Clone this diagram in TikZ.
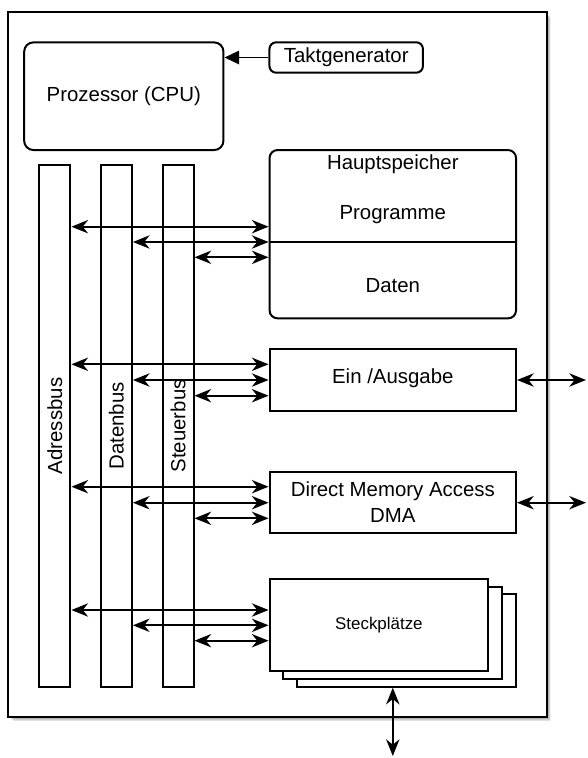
\documentclass[tikz,border=0pt]{standalone}
\usepackage{fontspec}
\setmainfont{Liberation Sans}
\usetikzlibrary{arrows.meta}

\tikzset{
  box/.style={draw, fill=white, inner sep=0pt, line width=1.5pt},
  rbox/.style={box, rounded corners=6pt},
  bus/.style={box, minimum width=31*0.75pt, minimum height=521.7*0.75pt},
  buslabel/.style={rotate=90, font=\fontsize{15.3pt}{18pt}\selectfont},
  bi/.style={{Stealth[length=12.5pt,width=10pt,inset=4pt]}-{Stealth[length=12.5pt,width=10pt,inset=4pt]}, line width=1.4pt},
  clk/.style={-{Triangle[length=11pt,width=10pt]}, line width=1.4pt},
  txt/.style={font=\fontsize{15.3pt}{19.3pt}\selectfont, align=center, inner sep=0pt},
}

\begin{document}
\begin{tikzpicture}[x=0.75pt, y=-0.75pt, line width=1.5pt]
\useasboundingbox (0,0) rectangle (587,758);

% soft shadow behind the board
\foreach \d/\o in {6/0.05,5/0.07,4/0.09,3/0.12} {
  \fill[black, opacity=\o] (8.2+\d,11.7+\d) rectangle (546.8+\d*0.7,717+\d*0.7);
}
% board
\node[box, minimum width=538.6*0.75pt, minimum height=705.3*0.75pt] (board) at (277.5,364.35) {};

% processor and clock
\node[rbox, rounded corners=7pt, minimum width=199.3*0.75pt, minimum height=107.7*0.75pt] (cpu) at (123.8,96.2) {};
\node[txt] at (cpu.center) {Prozessor (CPU)};
\node[rbox, rounded corners=5pt, minimum width=153.5*0.75pt, minimum height=30.4*0.75pt] (takt) at (346.2,57.5) {};
\node[txt] at (takt.center) {Taktgenerator};
\draw[clk] (takt.west) -- (cpu.east |- takt.west);

% buses
\node[bus] (adr) at (54.9,425.9) {};
\node[bus] (dat) at (116.4,425.9) {};
\node[bus] (ctl) at (178.0,425.9) {};
\node[buslabel] at (adr.center) {Adressbus};
\node[buslabel] at (dat.center) {Datenbus};
\node[buslabel] at (ctl.center) {Steuerbus};

% main memory
\node[rbox, minimum width=246.5*0.75pt, minimum height=168.3*0.75pt] (hs) at (392.8,234.2) {};
\draw (hs.west |- 0,242) -- (hs.east |- 0,242);
\node[txt] at (392.8,164) {Hauptspeicher};
\node[txt] at (392.8,215) {Programme};
\node[txt] at (392.8,286) {Daten};

% input / output
\node[box, minimum width=246.5*0.75pt, minimum height=61.7*0.75pt] (ea) at (392.8,379.9) {};
\node[txt] at (392.8,378.5) {Ein /Ausgabe};

% direct memory access
\node[box, minimum width=246.5*0.75pt, minimum height=61.3*0.75pt] (dma) at (392.8,502.3) {};
\node[txt] at (dma.center) {Direct Memory Access\\DMA};

% expansion slots
\node[box, minimum width=218.7*0.75pt, minimum height=92.4*0.75pt] (s3) at (406.7,640.5) {};
\node[box, minimum width=218.7*0.75pt, minimum height=92.4*0.75pt] (s2) at (392.8,632.8) {};
\node[box, minimum width=218.7*0.75pt, minimum height=92.4*0.75pt] (s1) at (378.9,625.2) {};
\node[txt, font=\fontsize{12.7pt}{15pt}\selectfont] at (s1.center) {Steckplätze};

% bus connections
\foreach \ya/\yd/\yc/\n in {226.7/242/257.3/hs, 364.3/380/395.7/ea, 486.7/502.7/518.3/dma, 610/625.3/640.7/s1} {
  \draw[bi] (adr.east |- 0,\ya) -- (\n.west |- 0,\ya);
  \draw[bi] (dat.east |- 0,\yd) -- (\n.west |- 0,\yd);
  \draw[bi] (ctl.east |- 0,\yc) -- (\n.west |- 0,\yc);
}

% external links
\coordinate (eaout) at (586,380);
\coordinate (dmaout) at (586,502.7);
\coordinate (slotout) at (392.8,756);
\draw[bi] (ea.east |- eaout) -- (eaout);
\draw[bi] (dma.east |- dmaout) -- (dmaout);
\draw[bi] (slotout |- s3.south) -- (slotout);
\end{tikzpicture}
\end{document}
